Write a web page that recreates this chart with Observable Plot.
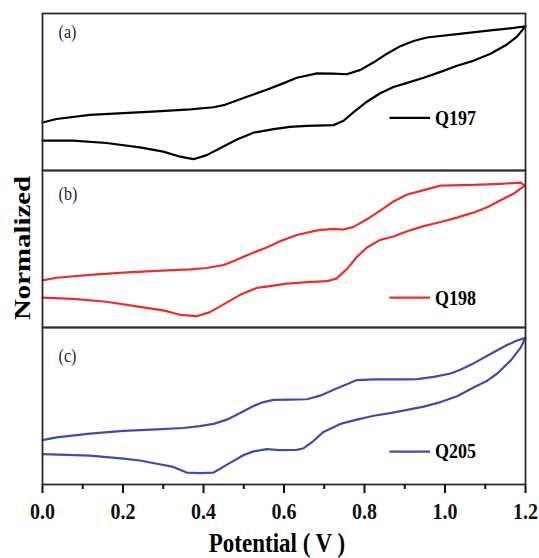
<!DOCTYPE html>
<html><head><meta charset="utf-8">
<script src="https://cdn.jsdelivr.net/npm/d3@7"></script>
<script src="https://cdn.jsdelivr.net/npm/@observablehq/plot@0.6"></script>
<style>body{margin:0;background:#fff} svg{display:block}</style>
</head><body><div id="chart"></div>
<script>
const seriesNames = ["Q197", "Q198", "Q205"];
const panelLabels = ["(a)", "(b)", "(c)"];
const seriesColors = ["#000000", "#ef2b2b", "#3c4daa"];
const majorTicks = [0, 0.2, 0.4, 0.6, 0.8, 1.0, 1.2];
const minorTicks = [0.1, 0.3, 0.5, 0.7, 0.9, 1.1];

// [potential V, normalized current] — forward (upper) and reverse (lower) scans
const q197Forward = [[0,0.306],[0.035,0.328],[0.118,0.354],[0.201,0.365],[0.284,0.376],[0.367,0.389],[0.425,0.403],[0.450,0.416],[0.474,0.438],[0.508,0.470],[0.557,0.514],[0.590,0.547],[0.632,0.591],[0.682,0.619],[0.723,0.617],[0.756,0.613],[0.790,0.641],[0.823,0.689],[0.856,0.744],[0.889,0.792],[0.922,0.825],[0.955,0.847],[1.030,0.869],[1.113,0.893],[1.171,0.908],[1.2,0.919]];
const q197Reverse = [[1.2,0.919],[1.179,0.853],[1.154,0.803],[1.113,0.744],[1.072,0.700],[1.030,0.667],[0.989,0.628],[0.947,0.591],[0.906,0.558],[0.872,0.532],[0.839,0.492],[0.806,0.438],[0.773,0.372],[0.748,0.317],[0.723,0.289],[0.657,0.284],[0.615,0.278],[0.574,0.263],[0.524,0.241],[0.483,0.197],[0.441,0.142],[0.408,0.098],[0.375,0.072],[0.342,0.088],[0.300,0.120],[0.242,0.147],[0.159,0.175],[0.076,0.190],[0,0.190]];

const q198Forward = [[0,0.300],[0.035,0.317],[0.118,0.335],[0.201,0.350],[0.284,0.361],[0.367,0.370],[0.408,0.379],[0.450,0.398],[0.474,0.422],[0.508,0.460],[0.557,0.510],[0.590,0.549],[0.632,0.589],[0.682,0.619],[0.723,0.628],[0.748,0.624],[0.773,0.641],[0.806,0.689],[0.839,0.744],[0.872,0.803],[0.906,0.847],[0.947,0.875],[0.989,0.904],[1.072,0.908],[1.138,0.915],[1.188,0.923],[1.198,0.904]];
const q198Reverse = [[1.198,0.904],[1.171,0.853],[1.138,0.810],[1.105,0.766],[1.072,0.733],[1.030,0.700],[0.989,0.672],[0.947,0.646],[0.906,0.613],[0.872,0.580],[0.839,0.558],[0.806,0.510],[0.781,0.449],[0.756,0.372],[0.731,0.313],[0.707,0.295],[0.657,0.289],[0.607,0.280],[0.574,0.267],[0.532,0.252],[0.491,0.208],[0.450,0.147],[0.416,0.098],[0.383,0.072],[0.342,0.081],[0.300,0.109],[0.242,0.131],[0.159,0.164],[0.076,0.182],[0,0.190]];

const q205Forward = [[0,0.283],[0.035,0.300],[0.118,0.324],[0.201,0.341],[0.284,0.351],[0.350,0.360],[0.391,0.372],[0.425,0.386],[0.458,0.413],[0.491,0.455],[0.524,0.500],[0.549,0.525],[0.574,0.539],[0.615,0.541],[0.657,0.543],[0.690,0.566],[0.723,0.603],[0.756,0.638],[0.781,0.665],[0.823,0.669],[0.906,0.669],[0.931,0.671],[0.972,0.686],[1.014,0.707],[1.038,0.731],[1.072,0.773],[1.113,0.831],[1.154,0.888],[1.179,0.917],[1.2,0.934]];
const q205Reverse = [[1.2,0.934],[1.188,0.872],[1.163,0.789],[1.130,0.707],[1.105,0.661],[1.072,0.620],[1.030,0.562],[0.989,0.525],[0.947,0.496],[0.906,0.475],[0.864,0.455],[0.823,0.438],[0.781,0.413],[0.740,0.386],[0.698,0.335],[0.673,0.277],[0.649,0.231],[0.632,0.221],[0.590,0.219],[0.557,0.225],[0.524,0.211],[0.499,0.186],[0.466,0.138],[0.425,0.076],[0.391,0.072],[0.358,0.076],[0.325,0.112],[0.284,0.132],[0.242,0.153],[0.201,0.165],[0.118,0.184],[0,0.194]];

const curves = {
  Q197: [q197Forward, q197Reverse],
  Q198: [q198Forward, q198Reverse],
  Q205: [q205Forward, q205Reverse]
};
const rows = [];
seriesNames.forEach(s => {
  const [f, r] = curves[s];
  [...f, ...r].forEach(([v, i]) => rows.push({series: s, v, i}));
});

const legendY = {Q197: 0.335, Q198: 0.19, Q205: 0.21};
const labelY = {Q197: 0.885, Q198: 0.85, Q205: 0.82};
const serif = "'Liberation Serif', 'Times New Roman', serif";

const chart = Plot.plot({
  width: 539, height: 558,
  marginLeft: 42, marginRight: 14, marginTop: 12, marginBottom: 74,
  style: {fontFamily: serif, background: "#fff", overflow: "visible"},
  x: {domain: [0, 1.2]},
  y: {domain: [0, 1], axis: null},
  fy: {domain: seriesNames, axis: null, padding: 0},
  color: {domain: seriesNames, range: seriesColors},
  marks: [
    Plot.line(rows, {x: "v", y: "i", z: "series", fy: "series", stroke: "series", strokeWidth: 2.2, strokeLinejoin: "round"}),
    Plot.link(seriesNames, {fy: d => d, x1: 0.862, x2: 0.963, y1: d => legendY[d], y2: d => legendY[d], stroke: d => d, strokeWidth: 2.2}),
    Plot.text(seriesNames, {fy: d => d, x: 0.975, y: d => legendY[d], text: d => d, textAnchor: "start", fontSize: 18, fontWeight: "bold", fill: "#000"}),
    Plot.text(seriesNames, {fy: d => d, x: 0.04, y: d => labelY[d], text: (d, i) => panelLabels[i], textAnchor: "start", fontSize: 16, fill: "#1c1c3a"}),
    Plot.frame({stroke: "#2b2b2b", strokeWidth: 1.8}),
    Plot.axisX(minorTicks, {tickSize: 5, tickFormat: () => "", strokeWidth: 2, color: "#111", label: null}),
    Plot.axisX(majorTicks, {tickSize: 9, tickPadding: 8, tickFormat: d3.format(".1f"), fontSize: 20, fontWeight: "bold", strokeWidth: 2, color: "#111", label: null})
  ]
});

d3.select(chart).selectAll("text").each(function () {
  const t = this.getAttribute("transform");
  if (t) this.setAttribute("transform", t + " scale(1,1.2)");
});

const svg = d3.select(chart);
svg.append("text")
  .attr("transform", "translate(277,552) scale(1,1.15)")
  .attr("text-anchor", "middle")
  .attr("font-family", serif).attr("font-weight", "bold").attr("font-size", 23)
  .attr("fill", "#000")
  .text("Potential ( V )");
svg.append("text")
  .attr("transform", "translate(30,248) scale(1,1.2) rotate(-90)")
  .attr("text-anchor", "middle")
  .attr("font-family", serif).attr("font-weight", "bold").attr("font-size", 24)
  .attr("fill", "#000")
  .text("Normalized");

document.getElementById("chart").appendChild(chart);
</script>
</body></html>
